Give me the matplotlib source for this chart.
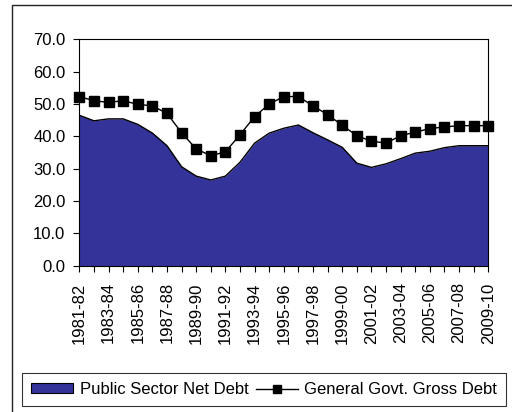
import matplotlib
matplotlib.use("Agg")
import matplotlib.pyplot as plt
from matplotlib.patches import Rectangle, Patch
from matplotlib.lines import Line2D

plt.rcParams['font.family'] = ['Liberation Sans', 'DejaVu Sans']

years = ["1981-82", "1982-83", "1983-84", "1984-85", "1985-86", "1986-87", "1987-88",
         "1988-89", "1989-90", "1990-91", "1991-92", "1992-93", "1993-94", "1994-95",
         "1995-96", "1996-97", "1997-98", "1998-99", "1999-00", "2000-01", "2001-02",
         "2002-03", "2003-04", "2004-05", "2005-06", "2006-07", "2007-08", "2008-09",
         "2009-10"]

net_debt = [46.5, 44.8, 45.4, 45.4, 43.7, 41.0, 37.1, 30.6, 27.7, 26.5, 27.7, 32.0,
            37.9, 41.0, 42.5, 43.5, 41.1, 38.9, 36.6, 31.7, 30.4, 31.5, 33.1, 34.8,
            35.4, 36.5, 37.1, 37.1, 37.1]

gross_debt = [52.3, 51.0, 50.5, 51.0, 49.9, 49.4, 47.1, 41.1, 36.1, 34.0, 35.2, 40.5,
              46.1, 50.0, 52.3, 52.3, 49.4, 46.7, 43.4, 40.2, 38.5, 37.9, 40.2, 41.3,
              42.4, 42.9, 43.3, 43.3, 43.3]

y_ticks = [0, 10, 20, 30, 40, 50, 60, 70]

FS = 12

fig = plt.figure(figsize=(5.12, 4.12), dpi=100)
ax = fig.add_axes([0.155, 0.3551, 0.7987, 0.5495])

x = list(range(len(years)))
area_color = '#333399'
ax.fill_between(x, net_debt, 0, color=area_color, linewidth=0, zorder=1)
ax.plot(x, net_debt, color='black', linewidth=1.0, zorder=2)
ax.plot(x, gross_debt, color='black', linewidth=1.0, marker='s', markersize=6.5,
        markerfacecolor='black', markeredgecolor='black', zorder=3, clip_on=False)

ax.set_xlim(0, len(years) - 1)
ax.set_ylim(0, 70)
ax.set_yticks(y_ticks)
ax.set_yticklabels([f"{v:.1f}" for v in y_ticks], fontsize=FS)
ax.set_xticks(x)
ax.set_xticklabels([lab if i % 2 == 0 else "" for i, lab in enumerate(years)],
                   rotation=90, fontsize=FS)
ax.tick_params(axis='both', direction='out', length=4, width=0.8, color='black')
ax.tick_params(axis='x', pad=8)
ax.tick_params(axis='y', pad=6)
for s in ax.spines.values():
    s.set_linewidth(0.8)
    s.set_color('black')

# outer chart frame
fig.patches.append(Rectangle((12 / 512, -0.05), 1.2, 1 - 5 / 412 + 0.05,
                             transform=fig.transFigure, fill=False,
                             edgecolor='#222222', linewidth=1.0, clip_on=False))

handles = [Patch(facecolor=area_color, edgecolor='black', linewidth=0.8),
           Line2D([0], [0], color='black', linewidth=1.0, marker='s', markersize=5.5)]
leg = fig.legend(handles, ["Public Sector Net Debt", "General Govt. Gross Debt"],
                 loc='center', bbox_to_anchor=(0.516, 0.0546), ncol=2, fontsize=FS,
                 frameon=True, fancybox=False, handlelength=2.5, handleheight=0.55,
                 handletextpad=0.4, columnspacing=0.45, borderpad=0.55,
                 borderaxespad=0)
leg.get_frame().set_edgecolor('black')
leg.get_frame().set_linewidth(0.8)

fig.savefig("out.png", dpi=100)
